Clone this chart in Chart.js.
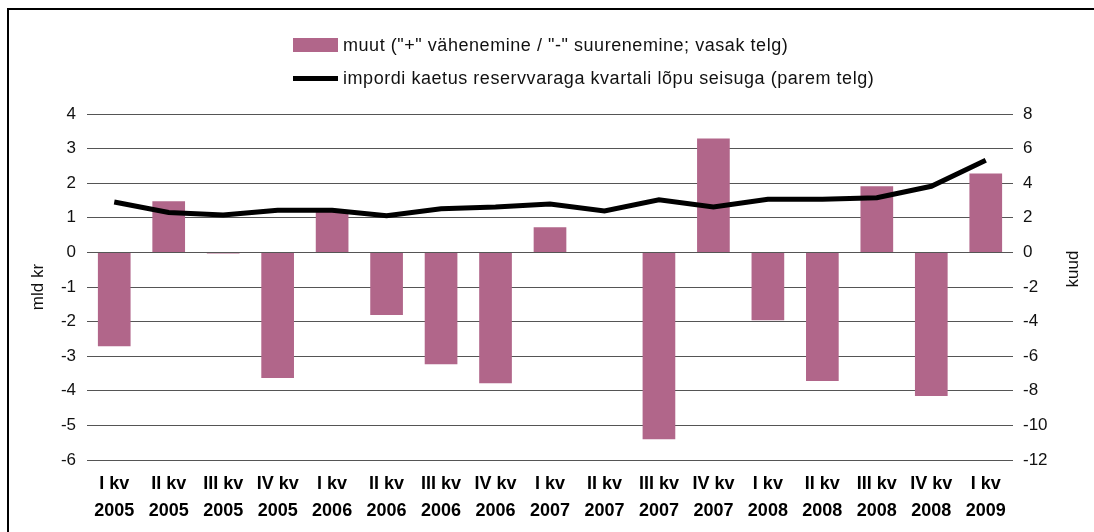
<!DOCTYPE html>
<html>
<head>
<meta charset="utf-8">
<script src="https://cdn.jsdelivr.net/npm/chart.js@4"></script>
<style>
  html, body { margin:0; padding:0; background:#fff; overflow:hidden; }
  #wrap { position:relative; width:1094px; height:532px; overflow:hidden; font-family:"Liberation Sans", Arial, sans-serif; }
  #chart { position:absolute; left:0; top:0; }
  .lg { position:absolute; left:293px; height:22px; line-height:22px; font-size:18px; letter-spacing:0.55px; color:#111; white-space:nowrap; }
  .lg .sw { position:absolute; left:0; }
  .lg span.t { position:absolute; left:50px; top:0; }
</style>
</head>
<body>
<div id="wrap">
  <canvas id="chart" width="1094" height="532"></canvas>
  <div class="lg" style="top:34px;"><div class="sw" style="top:4px;width:45px;height:14px;background:#b1668a;"></div><span class="t" id="lg1"></span></div>
  <div class="lg" style="top:67px;"><div class="sw" style="top:9px;width:45px;height:5px;background:#000;"></div><span class="t" id="lg2"></span></div>
</div>
<script>
// ── DATA ──────────────────────────────────────────────────────────────────────
const quarters = ['I kv','II kv','III kv','IV kv','I kv','II kv','III kv','IV kv','I kv','II kv','III kv','IV kv','I kv','II kv','III kv','IV kv','I kv'];
const years    = ['2005','2005','2005','2005','2006','2006','2006','2006','2007','2007','2007','2007','2008','2008','2008','2008','2009'];
const muut     = [-2.71, 1.48, -0.03, -3.63, 1.22, -1.81, -3.23, -3.78, 0.73, -0.02, -5.40, 3.29, -1.96, -3.72, 1.91, -4.15, 2.28];
const kaetus   = [2.91, 2.31, 2.16, 2.43, 2.43, 2.12, 2.52, 2.62, 2.80, 2.40, 3.04, 2.62, 3.07, 3.07, 3.16, 3.82, 5.33];
const seriesNames = ['muut ("+" vähenemine / "-" suurenemine; vasak telg)',
                     'impordi kaetus reservvaraga kvartali lõpu seisuga (parem telg)'];
const leftTitle  = 'mld kr';
const rightTitle = 'kuud';

document.getElementById('lg1').textContent = seriesNames[0];
document.getElementById('lg2').textContent = seriesNames[1];

const FONT = '"Liberation Sans", Arial, sans-serif';

// outer frame (only top and left edges are in view)
const framePlugin = {
  id: 'frame',
  beforeDraw(chart) {
    const ctx = chart.ctx;
    ctx.save();
    ctx.strokeStyle = '#000';
    ctx.lineWidth = 2;
    ctx.beginPath();
    ctx.moveTo(chart.width, 9);
    ctx.lineTo(8, 9);
    ctx.lineTo(8, chart.height);
    ctx.stroke();
    ctx.restore();
  }
};

// right axis title reads bottom-to-top like the left one
const rightTitlePlugin = {
  id: 'rightTitle',
  afterDraw(chart) {
    const {ctx, chartArea} = chart;
    ctx.save();
    ctx.translate(1073, (chartArea.top + chartArea.bottom) / 2 - 18);
    ctx.rotate(-Math.PI / 2);
    ctx.font = '17px ' + FONT;
    ctx.fillStyle = '#111';
    ctx.textAlign = 'center';
    ctx.textBaseline = 'middle';
    ctx.fillText(rightTitle, 0, 0);
    ctx.restore();
  }
};

new Chart(document.getElementById('chart'), {
  data: {
    labels: quarters.map((q, i) => [q, years[i]]),
    datasets: [
      { type:'line', label:seriesNames[1], data:kaetus, yAxisID:'y1', borderColor:'#000', borderWidth:5,
        pointRadius:0, tension:0, fill:false, order:0 },
      { type:'bar', label:seriesNames[0], data:muut, yAxisID:'y', backgroundColor:'#b1668a',
        barPercentage:0.6, categoryPercentage:1, order:1 }
    ]
  },
  options: {
    responsive:false, animation:false,
    layout:{ padding:{ top:114, left:17, right:0, bottom:0 } },
    plugins:{ legend:{display:false}, tooltip:{enabled:false} },
    scales:{
      x:{
        grid:{display:false}, border:{display:false},
        ticks:{ color:'#000', font:{family:FONT, size:18, weight:'bold', lineHeight:1.5}, padding:3, maxRotation:0, autoSkip:false },
        afterFit: s => { s.height = 72; }
      },
      y:{
        position:'left', min:-6, max:4,
        ticks:{ stepSize:1, color:'#111', font:{family:FONT, size:17}, padding:11 },
        grid:{ color:'#555', lineWidth:1, drawTicks:false },
        border:{display:false},
        title:{ display:true, text:leftTitle, color:'#111', font:{family:FONT, size:17}, padding:{top:11, bottom:0} },
        afterFit: s => { s.width = 70; }
      },
      y1:{
        position:'right', min:-12, max:8,
        ticks:{ stepSize:2, color:'#111', font:{family:FONT, size:17}, padding:10 },
        grid:{ display:false, drawTicks:false },
        border:{display:false},
        afterFit: s => { s.width = 81; }
      }
    }
  },
  plugins:[framePlugin, rightTitlePlugin]
});
</script>
</body>
</html>
